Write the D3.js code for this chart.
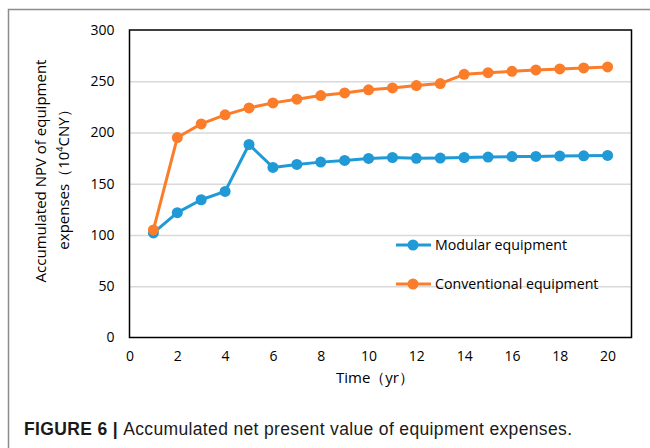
<!DOCTYPE html>
<html>
<head>
<meta charset="utf-8">
<script src="https://cdn.jsdelivr.net/npm/d3@7"></script>
<style>
  html, body { margin: 0; padding: 0; background: #fff; }
  svg { display: block; }
</style>
</head>
<body>
<svg id="chart" width="650" height="448"></svg>
<script>
// Years on the horizontal axis
const years = [1, 2, 3, 4, 5, 6, 7, 8, 9, 10, 11, 12, 13, 14, 15, 16, 17, 18, 19, 20];
// Accumulated NPV of equipment expenses (10^4 CNY)
const modular = [102, 121.8, 134.4, 142.5, 188.3, 165.9, 168.8, 171.1, 172.7, 174.7,
                 175.6, 174.8, 175.1, 175.6, 176, 176.5, 176.6, 177, 177.3, 177.6];
const conventional = [104.9, 195.1, 208.4, 217.2, 224, 228.9, 232.5, 236, 238.6, 241.6,
                      243.5, 245.8, 247.7, 256.8, 258.4, 259.7, 261, 262, 263, 264];
const xTicks = [0, 2, 4, 6, 8, 10, 12, 14, 16, 18, 20];
const yTicks = [0, 50, 100, 150, 200, 250, 300];
const seriesNames = ["Modular equipment", "Conventional equipment"];
const seriesColors = ["#1f9ad6", "#fb7d2a"];

const svg = d3.select("#chart");
const font = "'Open Sans', sans-serif";

// Outer figure frame
svg.append("rect")
  .attr("x", 8.5).attr("y", 9.5)
  .attr("width", 700).attr("height", 500)
  .attr("fill", "none").attr("stroke", "#8c8c8c").attr("stroke-width", 1.5);

const plot = { left: 129.5, right: 631.5, top: 30, bottom: 337.5 };

const x = d3.scaleLinear().domain([0, 21]).range([plot.left, plot.right]);
const y = d3.scaleLinear().domain([0, 300]).range([plot.bottom, plot.top]);

// Horizontal gridlines
svg.append("g")
  .attr("transform", `translate(${plot.left},0)`)
  .call(d3.axisLeft(y).tickValues(yTicks.filter(v => v > 0 && v < 300))
    .tickSize(-(plot.right - plot.left)).tickFormat(""))
  .call(g => g.select(".domain").remove())
  .call(g => g.selectAll("line").attr("stroke", "#d9d9d9").attr("stroke-width", 1.5));

// Plot frame
svg.append("rect")
  .attr("x", plot.left).attr("y", plot.top)
  .attr("width", plot.right - plot.left).attr("height", plot.bottom - plot.top)
  .attr("fill", "none").attr("stroke", "#000").attr("stroke-width", 1.5);

// Y axis labels
svg.append("g")
  .attr("transform", `translate(${plot.left},0)`)
  .call(d3.axisLeft(y).tickValues(yTicks).tickSize(0).tickPadding(15))
  .call(g => g.select(".domain").remove())
  .call(g => g.selectAll("text").attr("font-family", font).attr("font-size", 14).attr("fill", "#000"));

// X axis labels
svg.append("g")
  .attr("transform", `translate(0,${plot.bottom})`)
  .call(d3.axisBottom(x).tickValues(xTicks).tickSize(0).tickPadding(14))
  .call(g => g.select(".domain").remove())
  .call(g => g.selectAll("text").attr("font-family", font).attr("font-size", 14).attr("fill", "#000"));

// Axis titles
svg.append("text")
  .attr("x", 375).attr("y", 383)
  .attr("text-anchor", "middle")
  .attr("font-family", font).attr("font-size", 15).attr("fill", "#000")
  .text("Time（yr）");

const yTitle = svg.append("text")
  .attr("transform", "rotate(-90)")
  .attr("text-anchor", "middle")
  .attr("font-family", font).attr("font-size", 15).attr("fill", "#000");
yTitle.append("tspan").attr("x", -171).attr("y", 46).text("Accumulated NPV of equipment");
const l2 = yTitle.append("tspan").attr("x", -176).attr("y", 69);
l2.append("tspan").text("expenses（10");
l2.append("tspan").attr("font-size", 9).attr("dy", -6).text("4");
l2.append("tspan").attr("dy", 6).text("CNY）");

// Series
const series = [modular, conventional];
const line = d3.line().x((d, i) => x(years[i])).y(d => y(d));

series.forEach((vals, s) => {
  const g = svg.append("g");
  g.append("path")
    .datum(vals)
    .attr("d", line)
    .attr("fill", "none")
    .attr("stroke", seriesColors[s])
    .attr("stroke-width", 3)
    .attr("stroke-linejoin", "round");
  g.selectAll("circle")
    .data(vals)
    .join("circle")
    .attr("cx", (d, i) => x(years[i]))
    .attr("cy", d => y(d))
    .attr("r", 5.5)
    .attr("fill", seriesColors[s]);
});

// Legend
const legend = svg.append("g");
const legendY = [245, 284];
seriesNames.forEach((name, s) => {
  const row = legend.append("g").attr("transform", `translate(0,${legendY[s]})`);
  row.append("line")
    .attr("x1", 396).attr("x2", 431).attr("y1", 0).attr("y2", 0)
    .attr("stroke", seriesColors[s]).attr("stroke-width", 3);
  row.append("circle").attr("cx", 413).attr("cy", 0).attr("r", 5.5).attr("fill", seriesColors[s]);
  row.append("text")
    .attr("x", 435).attr("y", 0).attr("dy", "0.35em")
    .attr("font-family", font).attr("font-size", 14.2).attr("fill", "#000")
    .text(name);
});

// Caption
const cap = svg.append("text")
  .attr("x", 24).attr("y", 435)
  .attr("font-family", "'Liberation Sans', Arial, sans-serif")
  .attr("font-size", 17.5).attr("fill", "#1a1a1a")
  .attr("textLength", 548).attr("lengthAdjust", "spacing");
cap.append("tspan").attr("font-weight", "bold").text("FIGURE 6 | ");
cap.append("tspan").text("Accumulated net present value of equipment expenses.");
</script>
</body>
</html>
